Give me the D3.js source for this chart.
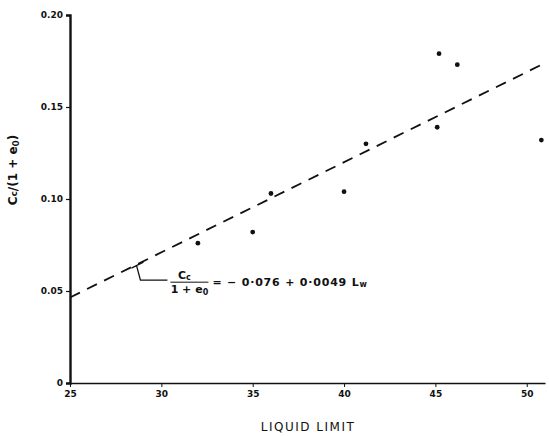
<!DOCTYPE html>
<html>
<head>
<meta charset="utf-8">
<script src="https://cdn.jsdelivr.net/npm/d3@7"></script>
<style>
  body { margin: 0; background: #fff; }
  text { font-family: "DejaVu Sans", sans-serif; fill: #111; }
</style>
</head>
<body>
<div id="chart"></div>
<script>
// Measured points: liquid limit vs Cc/(1+e0)
const liquidLimit = [32, 35, 36, 40, 41.2, 45.1, 45.2, 46.2, 50.8];
const ccRatio     = [0.076, 0.082, 0.103, 0.104, 0.130, 0.139, 0.179, 0.173, 0.132];

// Regression: Cc/(1+e0) = -0.076 + 0.0049 Lw
const fitIntercept = -0.076;
const fitSlope = 0.0049;
const fitRange = [25, 51];

const xTicks = [25, 30, 35, 40, 45, 50];
const yTicks = [0, 0.05, 0.10, 0.15, 0.20];

const width = 549, height = 436;

const svg = d3.select("#chart")
    .append("svg")
    .attr("width", width)
    .attr("height", height);

const x = d3.scaleLinear().domain([25, 51]).range([70, 545]);
const y = d3.scaleLinear().domain([0, 0.2]).range([383, 15]);

// Y axis
const yAxis = svg.append("g")
    .attr("transform", `translate(${x(25)},0)`)
    .call(d3.axisLeft(y).tickValues(yTicks).tickSize(4).tickPadding(3)
        .tickFormat(d => d === 0 ? "0" : d3.format(".2f")(d)));
yAxis.select(".domain").attr("stroke", "#111").attr("stroke-width", 2.4);
yAxis.selectAll(".tick line").attr("stroke", "#111").attr("stroke-width", 1.2);
yAxis.selectAll("text")
    .style("font-size", "9px")
    .style("font-weight", "bold")
    .style("fill", "#111");

// X axis
const xAxis = svg.append("g")
    .attr("transform", `translate(0,${y(0)})`)
    .call(d3.axisBottom(x).tickValues(xTicks).tickSize(4).tickPadding(4).tickSizeOuter(0));
xAxis.select(".domain").attr("stroke", "#111").attr("stroke-width", 1.6);
xAxis.selectAll(".tick line").attr("stroke", "#111").attr("stroke-width", 1);
xAxis.selectAll("text")
    .style("font-size", "9px")
    .style("font-weight", "bold")
    .style("fill", "#111");

// Fitted dashed line
const fit = x0 => fitIntercept + fitSlope * x0;
svg.append("line")
    .attr("x1", x(fitRange[0])).attr("y1", y(fit(fitRange[0])))
    .attr("x2", x(fitRange[1])).attr("y2", y(fit(fitRange[1])))
    .attr("stroke", "#111")
    .attr("stroke-width", 1.8)
    .attr("stroke-dasharray", "11,8");

// Data points
svg.selectAll(".pt")
    .data(liquidLimit)
    .enter()
    .append("circle")
    .attr("class", "pt")
    .attr("cx", d => x(d))
    .attr("cy", (d, i) => y(ccRatio[i]))
    .attr("r", 2.4)
    .attr("fill", "#111");

// Equation leader and label
const lx = x(28.8), ly = y(fit(28.8));
svg.append("path")
    .attr("d", `M${lx - 8},${ly + 5} L${lx + 4},${ly - 1} M${lx - 3},${ly + 2} L${lx + 1},${ly + 17} L${lx + 28},${ly + 17}`)
    .attr("fill", "none")
    .attr("stroke", "#111")
    .attr("stroke-width", 1.3);

const eq = svg.append("g").attr("transform", `translate(${lx + 31},${ly + 19})`);
eq.append("text").attr("x", 14).attr("y", -3).attr("text-anchor", "middle")
    .style("font-size", "11px").style("font-weight", "bold")
    .text("C").append("tspan").attr("dy", 1).style("font-size", "8px").text("c");
eq.append("line").attr("x1", 0).attr("x2", 38).attr("y1", 0).attr("y2", 0)
    .attr("stroke", "#111").attr("stroke-width", 1);
eq.append("text").attr("x", 19).attr("y", 11).attr("text-anchor", "middle")
    .style("font-size", "11px").style("font-weight", "bold")
    .text("1 + e").append("tspan").attr("dy", 2).style("font-size", "8px").text("0");
eq.append("text").attr("x", 42).attr("y", 4)
    .style("font-size", "11px").style("font-weight", "bold")
    .style("letter-spacing", "0.8px")
    .text("= \u2212 0\u00b7076  + 0\u00b70049 L")
    .append("tspan").attr("dy", 1).style("font-size", "8px").text("w");

// Axis titles
svg.append("text")
    .attr("x", 308).attr("y", 431)
    .attr("text-anchor", "middle")
    .style("font-size", "12px")
    .style("letter-spacing", "1.5px")
    .text("LIQUID LIMIT");

const yl = svg.append("text")
    .attr("transform", "translate(17,170) rotate(-90)")
    .attr("text-anchor", "middle")
    .style("font-size", "12px")
    .style("font-weight", "bold");
yl.append("tspan").text("C");
yl.append("tspan").style("font-size", "9px").text("c");
yl.append("tspan").text("/(1 + e");
yl.append("tspan").style("font-size", "9px").attr("dy", 2).text("0");
yl.append("tspan").attr("dy", -2).text(")");
</script>
</body>
</html>
